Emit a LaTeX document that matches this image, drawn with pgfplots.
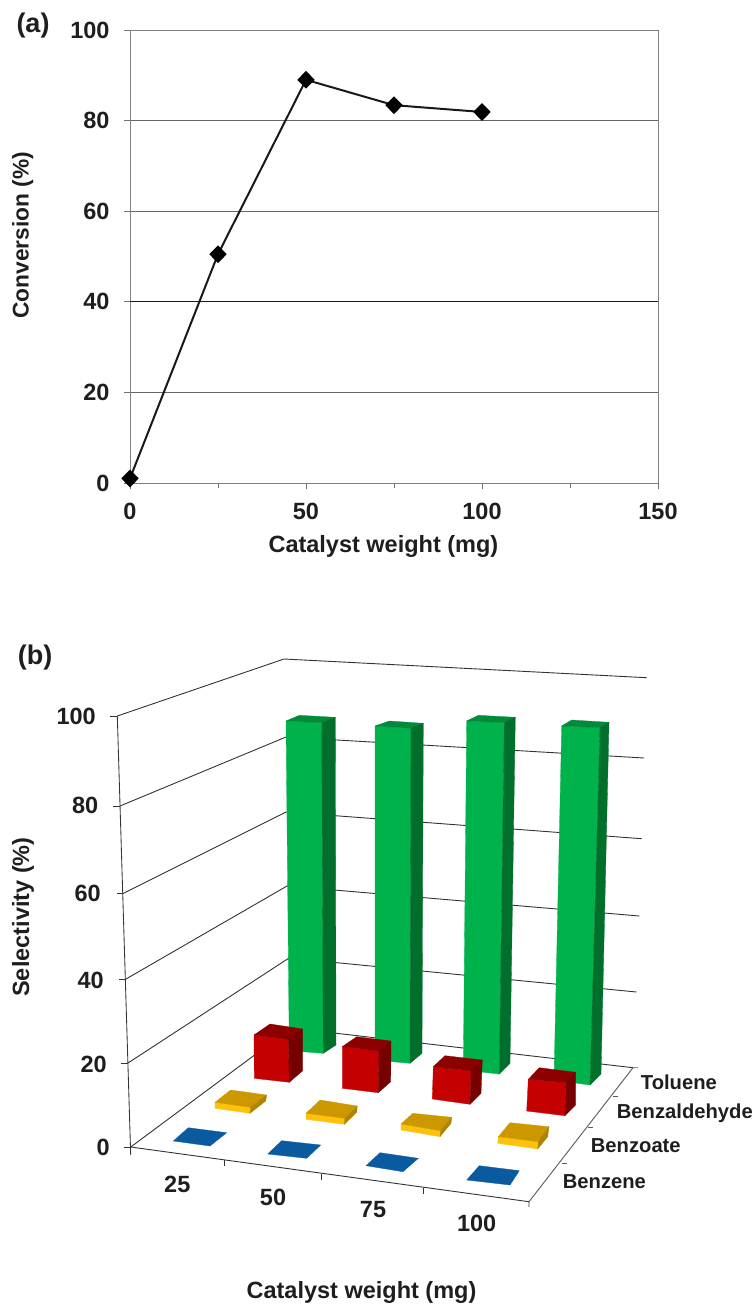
\documentclass[border=0pt]{standalone}
\usepackage{pgfplots}
\usepackage{fontspec}
\pgfplotsset{compat=1.18}
\setmainfont{Liberation Sans}
\definecolor{txt}{HTML}{1E1E1E}
\definecolor{gfront}{HTML}{00B24C}
\definecolor{gside}{HTML}{006F2B}
\definecolor{gtop}{HTML}{008A3A}
\definecolor{rfront}{HTML}{C40000}
\definecolor{rside}{HTML}{760000}
\definecolor{rtop}{HTML}{8C0000}
\definecolor{yfront}{HTML}{FFC20A}
\definecolor{yside}{HTML}{AF8400}
\definecolor{ytop}{HTML}{CB9800}
\definecolor{bfront}{HTML}{0A5AA0}
\newcommand{\lab}{\bfseries\fontsize{23.5}{25}\selectfont\color{txt}}
\newcommand{\conv}{\bfseries\fontsize{22.7}{25}\selectfont\color{txt}}
\newcommand{\pan}{\bfseries\fontsize{27}{29}\selectfont\color{txt}}
\newcommand{\cat}{\bfseries\fontsize{20.2}{22}\selectfont\color{txt}}
\newcommand{\poly}[2]{\addplot[fill=#1,draw=#1,line width=0.3pt] coordinates {#2} -- cycle;}
\newcommand{\wall}[3]{\draw[black!80,line width=0.9pt] (axis cs:#1) -- (axis cs:#2) -- (axis cs:#3);}
\newcommand{\seg}[3]{\draw[black!#1,line width=0.85pt] (axis cs:#2) -- (axis cs:#3);}
\begin{document}
\begin{tikzpicture}[x=1pt,y=1pt]
\useasboundingbox (0,0) rectangle (753,1309);
% ---------- panel (a)
\begin{axis}[
  at={(130pt,826pt)},anchor=south west,
  scale only axis,width=528pt,height=453pt,
  xmin=0,xmax=150,ymin=0,ymax=100,
  xtick={0,50,100,150},minor xtick={25,75,125},
  ytick={0,20,40,60,80,100},
  tick pos=left,tick align=outside,
  major tick length=6pt,minor tick length=5pt,
  tick style={black!55,line width=0.8pt},
  minor tick style={black!55,line width=0.8pt},
  axis line style={black!50,line width=0.9pt},
  ymajorgrids,
  grid style={black!60,line width=0.8pt},
  extra y ticks={40},extra y tick labels={},
  extra tick style={grid style={black!90,line width=0.9pt}},
  clip=false,
  /pgf/number format/assume math mode=true,
  ticklabel style={font=\lab},
  xticklabel style={yshift=-11pt},
  yticklabel style={xshift=-11pt},
  xlabel={Catalyst weight (mg)},ylabel={Conversion (\%)},
  xlabel style={font=\lab,at={(axis description cs:0.48,-0.141)},anchor=center},
  ylabel style={font=\conv,at={(axis description cs:-0.203,0.547)},anchor=center},
]
\addplot[black!90,line width=2pt,mark=diamond*,mark size=7.5pt,mark options={fill=black,draw=black,solid,xscale=1.3}]
  coordinates {(0,1) (25,50.5) (50,89) (75,83.4) (100,81.9)};
\end{axis}
\node[font=\pan] at (33,1283) {(a)};
% ---------- panel (b): axis in picture pixels, y downwards
\begin{axis}[
  at={(0pt,0pt)},anchor=south west,
  scale only axis,width=753pt,height=1309pt,
  xmin=0,xmax=753,ymin=0,ymax=1309,y dir=reverse,
  hide axis,clip=false,
]
% walls and floor
\wall{117.3,716}{284,659}{646.7,677.7}
\wall{120,806}{286,737}{644,758}
\wall{124,893}{286,812}{641.7,838.7}
\wall{126,979}{287,886}{639.3,916}
\wall{128,1063}{289,958}{636.5,992}
\wall{130.7,1147}{291,1028}{633,1067.7}
\seg{80}{117.3,716}{130.7,1155}
\seg{80}{110.3,716}{117.3,716}
\seg{80}{113,806}{120,806}
\seg{80}{117,893}{124,893}
\seg{80}{119,979}{126,979}
\seg{80}{121,1063}{128,1063}
\seg{80}{123.7,1147}{130.7,1147}
\wall{130.7,1147}{529,1201.7}{529,1207}
\draw[black!65,line width=0.9pt] (axis cs:529,1201.7) -- (axis cs:633,1067.7) -- (axis cs:638,1067.7);
\seg{80}{224,1160}{224,1166}
\seg{80}{321.7,1173.5}{321.7,1179.5}
\seg{80}{423,1187.5}{423,1193.5}
\seg{65}{613,1096}{618,1096}
\seg{65}{588,1127}{593,1127}
\seg{65}{562,1163}{567,1163}
% Toluene
\poly{gfront}{(286,721)(321.7,722.7)(323.3,1053.3)(289.3,1050.7)}
\poly{gtop}{(286,721)(299.3,715.3)(335.3,717.3)(321.7,722.7)}
\poly{gside}{(321.7,722.7)(335.3,717.3)(336,1045)(323.3,1053.3)}
\poly{gfront}{(375,726)(411,728.3)(410,1063.3)(375,1060)}
\poly{gtop}{(375,726)(389.3,721)(423.3,723.3)(411,728.3)}
\poly{gside}{(411,728.3)(423.3,723.3)(422,1053.3)(410,1063.3)}
\poly{gfront}{(466.7,721)(504.3,722.7)(499.3,1074)(463.3,1070)}
\poly{gtop}{(466.7,721)(478.3,715.3)(515.3,717.3)(504.3,722.7)}
\poly{gside}{(504.3,722.7)(515.3,717.3)(510,1063.3)(499.3,1074)}
\poly{gfront}{(561.7,726)(600,727.7)(590,1085)(554,1080)}
\poly{gtop}{(561.7,726)(571.7,720)(609,722.3)(600,727.7)}
\poly{gside}{(600,727.7)(609,722.3)(601,1074)(590,1085)}
% Benzaldehyde
\poly{rfront}{(254,1035)(288.3,1039.3)(289.3,1082.3)(254.3,1078.3)}
\poly{rtop}{(254,1035)(270,1024)(302.7,1029)(288.3,1039.3)}
\poly{rside}{(288.3,1039.3)(302.7,1029)(302.7,1070.7)(289.3,1082.3)}
\poly{rfront}{(342.3,1046.7)(379,1051)(378.3,1092.7)(342.3,1088.3)}
\poly{rtop}{(342.3,1046.7)(356.7,1036.7)(391,1041)(379,1051)}
\poly{rside}{(379,1051)(391,1041)(390.7,1081.7)(378.3,1092.7)}
\poly{rfront}{(433.3,1066.7)(471,1070.7)(470,1104.3)(432.3,1099)}
\poly{rtop}{(433.3,1066.7)(445,1055.7)(482.3,1060)(471,1070.7)}
\poly{rside}{(471,1070.7)(482.3,1060)(481,1093.3)(470,1104.3)}
\poly{rfront}{(528.3,1079.3)(565.7,1082.7)(565,1115.7)(526.7,1111)}
\poly{rtop}{(528.3,1079.3)(539.3,1067.7)(575.7,1072.3)(565.7,1082.7)}
\poly{rside}{(565.7,1082.7)(575.7,1072.3)(575.7,1105)(565,1115.7)}
% Benzoate
\poly{yfront}{(215,1102.3)(250.7,1107.3)(250,1113.3)(215,1108.3)}
\poly{ytop}{(215,1102.3)(230.7,1090)(266.7,1095)(250.7,1107.3)}
\poly{yside}{(250.7,1107.3)(266.7,1095)(265.7,1101)(250,1113.3)}
\poly{yfront}{(306,1113.3)(345,1118.3)(344.3,1124.3)(306,1119.3)}
\poly{ytop}{(306,1113.3)(320,1100)(357.3,1106)(345,1118.3)}
\poly{yside}{(345,1118.3)(357.3,1106)(356.7,1112.3)(344.3,1124.3)}
\poly{yfront}{(401,1124)(440.7,1130.7)(440,1136.7)(401,1130)}
\poly{ytop}{(401,1124)(412.7,1113.3)(451.7,1117.3)(440.7,1130.7)}
\poly{yside}{(440.7,1130.7)(451.7,1117.3)(451,1123.3)(440,1136.7)}
\poly{yfront}{(498.3,1136.7)(538.3,1141.7)(537.7,1149)(497.7,1143.3)}
\poly{ytop}{(498.3,1136.7)(510,1122.7)(549,1126.7)(538.3,1141.7)}
\poly{yside}{(538.3,1141.7)(549,1126.7)(547.7,1136.7)(537.7,1149)}
% Benzene
\poly{bfront}{(173.3,1141)(210,1146)(226.7,1132.7)(188.3,1127.7)}
\poly{bfront}{(267.7,1154)(306.7,1158.3)(320.7,1145)(281.7,1140.7)}
\poly{bfront}{(366,1165.7)(403,1171.7)(418.3,1158.3)(380,1152.7)}
\poly{bfront}{(466.7,1180)(510,1185)(519.3,1170.7)(479.3,1165.7)}
% texts
\node[font=\lab,anchor=east,inner sep=0pt] at (axis cs:96,716) {100};
\node[font=\lab,anchor=east,inner sep=0pt] at (axis cs:98.5,805) {80};
\node[font=\lab,anchor=east,inner sep=0pt] at (axis cs:101,893) {60};
\node[font=\lab,anchor=east,inner sep=0pt] at (axis cs:104,980) {40};
\node[font=\lab,anchor=east,inner sep=0pt] at (axis cs:107,1064) {20};
\node[font=\lab,anchor=east,inner sep=0pt] at (axis cs:110,1147) {0};
\node[font=\lab] at (axis cs:177.3,1184) {25};
\node[font=\lab] at (axis cs:273,1197) {50};
\node[font=\lab] at (axis cs:373,1210) {75};
\node[font=\lab] at (axis cs:476.7,1223) {100};
\node[font=\cat,anchor=west,inner sep=0pt] at (axis cs:640.7,1082) {Toluene};
\node[font=\cat,anchor=west,inner sep=0pt] at (axis cs:616.7,1113) {Benzaldehyde};
\node[font=\cat,anchor=west,inner sep=0pt] at (axis cs:590.7,1146) {Benzoate};
\node[font=\cat,anchor=west,inner sep=0pt] at (axis cs:562.7,1181.7) {Benzene};
\node[font=\lab] at (axis cs:361.5,1292) {Catalyst weight (mg)};
\node[font=\lab,rotate=90] at (axis cs:23,917) {Selectivity (\%)};
\node[font=\pan] at (axis cs:35,658) {(b)};
\end{axis}
\end{tikzpicture}
\end{document}
